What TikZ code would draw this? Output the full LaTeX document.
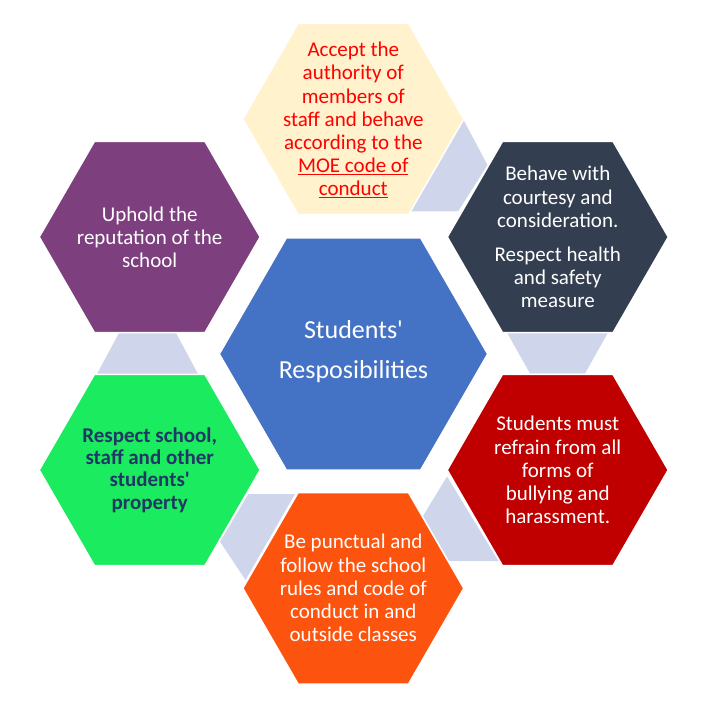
\documentclass[tikz,border=0pt]{standalone}
\usepackage{fontspec}
\newfontfamily\calib{Carlito}
\usetikzlibrary{shapes.geometric}
\definecolor{cream}{HTML}{FFF2CC}
\definecolor{redtxt}{HTML}{FF0000}
\definecolor{slate}{HTML}{333F50}
\definecolor{darkred}{HTML}{C00000}
\definecolor{orng}{HTML}{FC540E}
\definecolor{grn}{HTML}{1BEB5F}
\definecolor{navy}{HTML}{1F3864}
\definecolor{purp}{HTML}{7E3F7F}
\definecolor{blu}{HTML}{4472C4}
\definecolor{lav}{HTML}{CFD5EA}
\begin{document}
\begin{tikzpicture}[x=1pt,y=-1pt,
  hexa/.style={regular polygon, regular polygon sides=6, inner sep=0pt, outer sep=0pt, draw=white, line width=1.5pt},
  outerhex/.style={hexa, minimum size=221pt},
  txt/.style={align=center, text=white, font=\calib\fontsize{21}{23.2}\selectfont, inner sep=0pt},
  conn/.style={fill=lav}]
\useasboundingbox (0,0) rectangle (708,708);
% connector shapes
\fill[conn] (463,119) -- (487.5,165) -- (458,211.5) -- (409.5,211.5) -- cycle;
\fill[conn] (506.7,332) -- (608.3,332) -- (585,373.5) -- (530,373.5) -- cycle;
\fill[conn] (447,476.5) -- (498.5,561) -- (449,561) -- (423,516) -- cycle;
\fill[conn] (248.3,494) -- (295,494) -- (245.5,580) -- (220,541.7) -- cycle;
\fill[conn] (119,333) -- (176,333) -- (198,374) -- (97,374) -- cycle;
% hexagons
\node[hexa, minimum size=268.4pt, fill=blu] (hc) at (353.5,354) {};
\node[outerhex, fill=cream] (h1) at (353.3,119) {};
\node[outerhex, fill=slate] (h2) at (557.8,237) {};
\node[outerhex, fill=darkred] (h3) at (557.7,470) {};
\node[outerhex, fill=orng] (h4) at (353.3,588.3) {};
\node[outerhex, fill=grn] (h5) at (149.7,470) {};
\node[outerhex, fill=purp] (h6) at (149.7,237) {};
% texts
\node[txt, font=\calib\fontsize{26}{40}\selectfont] (tc) at (353.5,352) {Students'\\Resposibilities};
\node[txt, text=redtxt] (t1) at (353.3,120) {Accept the\\authority of\\members of\\staff and behave\\according to the\\\underline{MOE code of}\\\underline{conduct}};
\node[txt] (t2) at (557.8,237) {Behave with\\courtesy and\\consideration.\\[10.7pt]Respect health\\and safety\\measure};
\node[txt] (t3) at (557.7,470) {Students must\\refrain from all\\forms of\\bullying and\\harassment.};
\node[txt] (t4) at (353.3,588) {Be punctual and\\follow the school\\rules and code of\\conduct in and\\outside classes};
\node[txt, text=navy, font=\calib\bfseries\fontsize{21}{22.2}\selectfont] (t5) at (149.7,470) {Respect school,\\staff and other\\students'\\property};
\node[txt] (t6) at (149.7,237) {Uphold the\\reputation of the\\school};
\end{tikzpicture}
\end{document}
